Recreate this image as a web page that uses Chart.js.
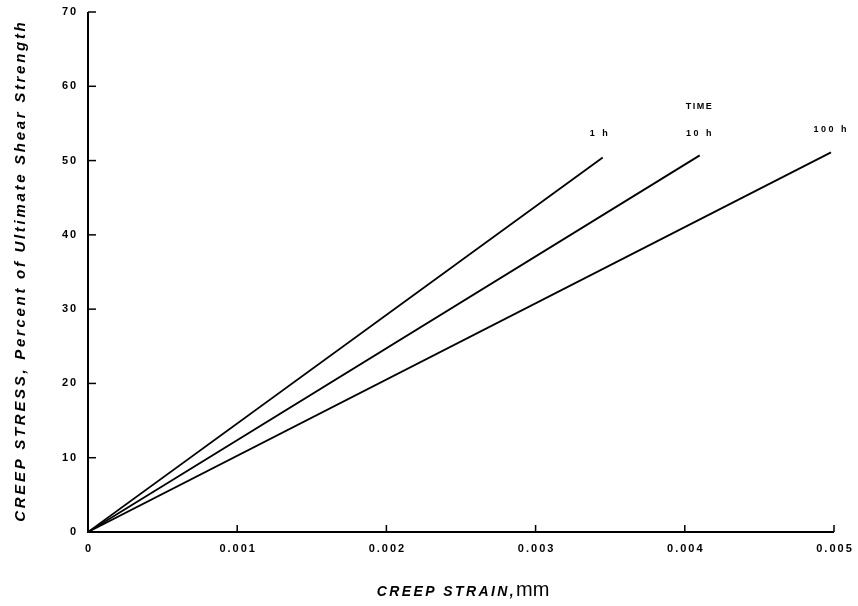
<!DOCTYPE html>
<html>
<head>
<meta charset="utf-8">
<script src="https://cdn.jsdelivr.net/npm/chart.js@4.4.0/dist/chart.umd.min.js"></script>
<style>
    html, body { margin: 0; padding: 0; background: #fff; }
    #wrap { width: 858px; height: 606px; position: relative; }
</style>
</head>
<body>
<div id="wrap"><canvas id="creepChart"></canvas></div>
<script>
// values
const timeLabels = ['1 h', '10 h', '100 h'];
const startStrain = [0, 0, 0];
const startStress = [0, 0, 0];
const endStrain = [0.00345, 0.0041, 0.00498];
const endStress = [50.4, 50.7, 51.1];
const xTicks = [0, 0.001, 0.002, 0.003, 0.004, 0.005];
const yTicks = [0, 10, 20, 30, 40, 50, 60, 70];

const FAMILY = 'Liberation Sans, Arial, sans-serif';

// spaced text helper (canvas letterSpacing)
function spacedText(ctx, text, x, y, font, spacing, align) {
    ctx.font = font;
    ctx.letterSpacing = spacing + 'px';
    const w = ctx.measureText(text).width - spacing;
    let left = x;
    if (align === 'center') left = x - w / 2;
    if (align === 'right') left = x - w;
    ctx.textAlign = 'left';
    ctx.fillText(text, left, y);
    ctx.letterSpacing = '0px';
    return w;
}

// axis lines, inward ticks, labels, titles and the TIME labels
const decorations = {
    id: 'decorations',
    afterDraw(chart) {
        const ctx = chart.ctx;
        const xs = chart.scales.x, ys = chart.scales.y;
        const area = chart.chartArea;
        ctx.save();
        ctx.strokeStyle = '#000';
        ctx.fillStyle = '#000';
        ctx.lineWidth = 2;
        ctx.beginPath();
        ctx.moveTo(area.left, area.top);
        ctx.lineTo(area.left, area.bottom);
        ctx.lineTo(area.right, area.bottom);
        ctx.stroke();

        ctx.lineWidth = 1.5;
        ctx.textBaseline = 'middle';
        const tickFont = 'bold 11px ' + FAMILY;
        yTicks.forEach(v => {
            const py = ys.getPixelForValue(v);
            ctx.beginPath();
            ctx.moveTo(area.left, py);
            ctx.lineTo(area.left + 8, py);
            ctx.stroke();
            spacedText(ctx, String(v), area.left - 12, py, tickFont, 1.8, 'right');
        });
        xTicks.forEach(v => {
            const px = xs.getPixelForValue(v);
            ctx.beginPath();
            ctx.moveTo(px, area.bottom);
            ctx.lineTo(px, area.bottom - 7);
            ctx.stroke();
            const lab = v === 0 ? '0' : v.toFixed(3);
            spacedText(ctx, lab, px, area.bottom + 17, tickFont, 2, 'center');
        });

        // series labels above each line end
        const labFont = 'bold 9px ' + FAMILY;
        const offs = [[-4, -24], [-1, -22], [-1, -23]];
        timeLabels.forEach((lab, i) => {
            const px = xs.getPixelForValue(endStrain[i]);
            const py = ys.getPixelForValue(endStress[i]);
            spacedText(ctx, lab, px + offs[i][0], py + offs[i][1], labFont, 2.5, 'center');
        });
        spacedText(ctx, 'TIME', xs.getPixelForValue(endStrain[1]) - 1,
            ys.getPixelForValue(endStress[1]) - 49, labFont, 1.5, 'center');

        // x title: bold italic part + regular unit
        ctx.textBaseline = 'alphabetic';
        const f1 = 'italic bold 14px ' + FAMILY;
        const f2 = '20px ' + FAMILY;
        ctx.font = f1;
        ctx.letterSpacing = '2.4px';
        const w1 = ctx.measureText('CREEP STRAIN,').width;
        ctx.letterSpacing = '0px';
        ctx.font = f2;
        const w2 = ctx.measureText('mm').width;
        const x0 = 463 - (w1 + w2) / 2;
        spacedText(ctx, 'CREEP STRAIN,', x0, 596, f1, 2.4, 'left');
        ctx.font = f2;
        ctx.fillText('mm', x0 + w1, 596);

        // y title, rotated
        ctx.translate(21, 272);
        ctx.rotate(-Math.PI / 2);
        ctx.textBaseline = 'middle';
        spacedText(ctx, 'CREEP STRESS, Percent of Ultimate Shear Strength', 0, 0,
            'italic bold 15px ' + FAMILY, 2.7, 'center');
        ctx.restore();
    }
};

const datasets = timeLabels.map((lab, i) => ({
    label: lab,
    data: [
        { x: startStrain[i], y: startStress[i] },
        { x: endStrain[i], y: endStress[i] }
    ],
    borderColor: '#000',
    borderWidth: 1.8,
    pointRadius: 0,
    fill: false,
    tension: 0
}));

new Chart(document.getElementById('creepChart'), {
    type: 'line',
    data: { datasets },
    options: {
        responsive: true,
        maintainAspectRatio: false,
        animation: false,
        layout: { padding: { top: 12, right: 24, left: 0, bottom: 0 } },
        plugins: {
            legend: { display: false },
            tooltip: { enabled: false }
        },
        scales: {
            x: {
                type: 'linear',
                min: 0,
                max: 0.005,
                border: { display: false },
                grid: { display: false },
                ticks: { display: false },
                afterFit(scale) { scale.height = 74; },
                afterBuildTicks(scale) { scale.ticks = xTicks.map(v => ({ value: v })); }
            },
            y: {
                type: 'linear',
                min: 0,
                max: 70,
                border: { display: false },
                grid: { display: false },
                ticks: { display: false },
                afterFit(scale) { scale.width = 88; },
                afterBuildTicks(scale) { scale.ticks = yTicks.map(v => ({ value: v })); }
            }
        }
    },
    plugins: [decorations]
});
</script>
</body>
</html>
